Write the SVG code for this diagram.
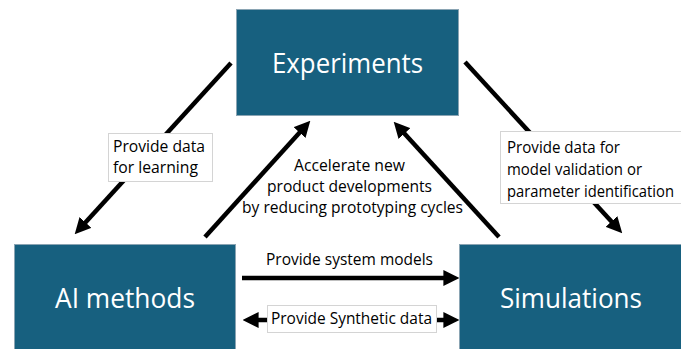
<svg xmlns="http://www.w3.org/2000/svg" width="681" height="349" viewBox="0 0 681 349">
<defs>
<marker id="ah" markerUnits="userSpaceOnUse" markerWidth="16" markerHeight="16" refX="9" refY="7.5" orient="auto-start-reverse" viewBox="0 0 15 15">
<path d="M0,0 L15,7.5 L0,15 z" fill="#000"/>
</marker>
<style>
.node{fill:#17607f;stroke:#8aa4b3;stroke-width:1}
.big{font-family:"Open Sans","Liberation Sans",sans-serif;font-size:28px;fill:#fff;text-anchor:middle}
.lbl{font-family:"Open Sans","Liberation Sans",sans-serif;font-size:16.5px;fill:#000}
.lbox{fill:#fff;stroke:#d4d4d4;stroke-width:1}
.conn{stroke:#000;stroke-width:4.5;fill:none;marker-end:url(#ah)}
</style>
</defs>
<rect width="681" height="349" fill="#fff"/>
<g id="connectors">
<line class="conn" x1="231" y1="63" x2="79" y2="229.6"/>
<line class="conn" x1="205" y1="237" x2="306" y2="125.4"/>
<line class="conn" x1="499" y1="237" x2="398" y2="126.4"/>
<line class="conn" x1="465" y1="62" x2="617.9" y2="228.6"/>
<line class="conn" x1="242" y1="278" x2="453" y2="278"/>
<line class="conn" x1="249" y1="320" x2="453" y2="320" style="marker-start:url(#ah)"/>
</g>
<g id="label-learning">
<rect class="lbox" x="108.5" y="133.5" width="104" height="48"/>
<text class="lbl" x="113" y="152" textLength="92" lengthAdjust="spacingAndGlyphs">Provide data</text>
<text class="lbl" x="113" y="173" textLength="85" lengthAdjust="spacingAndGlyphs">for learning</text>
</g>
<g id="label-validation">
<rect class="lbox" x="500.5" y="131.5" width="190" height="72"/>
<text class="lbl" x="507" y="153" textLength="113" lengthAdjust="spacingAndGlyphs">Provide data for</text>
<text class="lbl" x="507" y="175" textLength="135" lengthAdjust="spacingAndGlyphs">model validation or</text>
<text class="lbl" x="507" y="197" textLength="167" lengthAdjust="spacingAndGlyphs">parameter identification</text>
</g>
<g id="label-accelerate">
<text class="lbl" x="294" y="171" textLength="111" lengthAdjust="spacingAndGlyphs">Accelerate new</text>
<text class="lbl" x="267" y="192" textLength="165" lengthAdjust="spacingAndGlyphs">product developments</text>
<text class="lbl" x="242" y="213" textLength="221" lengthAdjust="spacingAndGlyphs">by reducing prototyping cycles</text>
</g>
<g id="label-models">
<text class="lbl" x="266" y="265" textLength="167" lengthAdjust="spacingAndGlyphs">Provide system models</text>
</g>
<g id="label-synthetic">
<rect class="lbox" x="267.5" y="305.5" width="169" height="27"/>
<text class="lbl" x="271" y="324" textLength="161" lengthAdjust="spacingAndGlyphs">Provide Synthetic data</text>
</g>
<g id="experiments">
<rect class="node" x="236.5" y="9.5" width="222" height="106"/>
<text class="big" x="347.5" y="73" textLength="151" lengthAdjust="spacingAndGlyphs">Experiments</text>
</g>
<g id="ai-methods">
<rect class="node" x="14.5" y="244.5" width="221" height="110"/>
<text class="big" x="125" y="308" textLength="140" lengthAdjust="spacingAndGlyphs">AI methods</text>
</g>
<g id="simulations">
<rect class="node" x="459.5" y="244.5" width="230" height="110"/>
<text class="big" x="571" y="308" textLength="142" lengthAdjust="spacingAndGlyphs">Simulations</text>
</g>
</svg>
